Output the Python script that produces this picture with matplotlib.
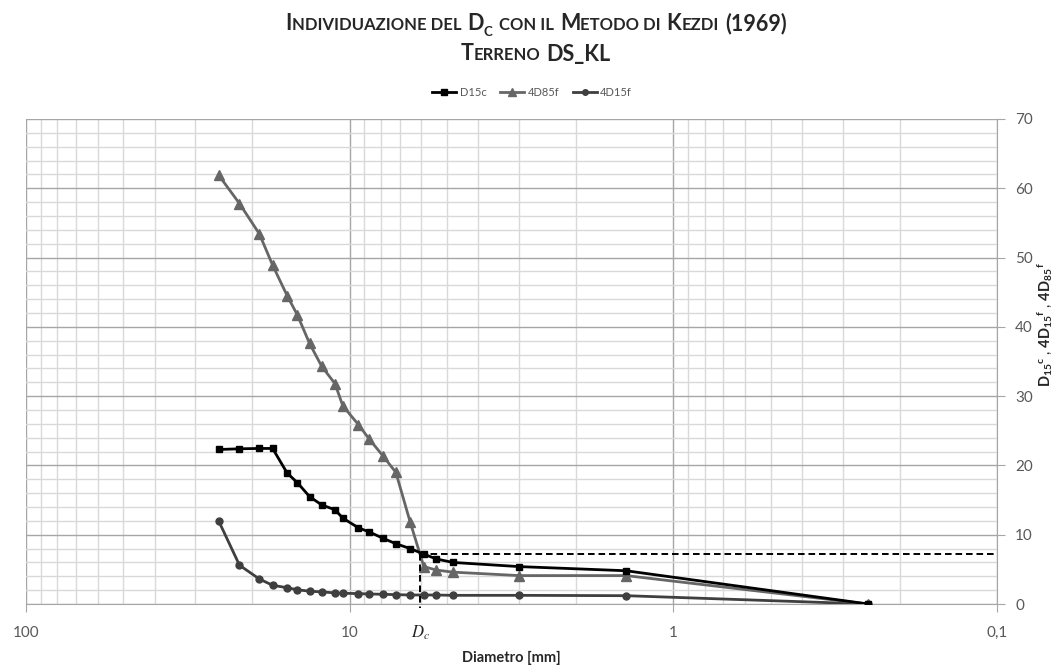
import matplotlib
matplotlib.use('Agg')
import matplotlib.pyplot as plt
from matplotlib.ticker import FixedLocator, FixedFormatter, LogLocator, NullFormatter
import numpy as np

plt.rcParams['font.family'] = ['Lato', 'DejaVu Sans']
plt.rcParams['mathtext.fontset'] = 'custom'
plt.rcParams['mathtext.rm'] = 'Lato'
plt.rcParams['mathtext.it'] = 'Lato:italic'
plt.rcParams['mathtext.bf'] = 'Lato:bold'

# dati
diametri = [25.4, 21.9, 19.0, 17.3, 15.6, 14.5, 13.3, 12.2, 11.1, 10.5, 9.4,
            8.7, 7.9, 7.2, 6.5, 5.9, 5.4, 4.8, 3.0, 1.4, 0.25]
d15c = [22.3, 22.4, 22.45, 22.45, 18.9, 17.5, 15.5, 14.3, 13.6, 12.4, 11.0,
        10.4, 9.5, 8.7, 8.0, 7.2, 6.5, 6.0, 5.4, 4.8, 0.0]
d85f_4 = [61.9, 57.8, 53.4, 48.9, 44.5, 41.7, 37.6, 34.3, 31.8, 28.6, 25.9,
          23.8, 21.4, 19.0, 11.8, 5.4, 4.9, 4.6, 4.1, 4.1, 0.0]
d15f_4 = [12.0, 5.6, 3.6, 2.7, 2.35, 2.05, 1.85, 1.75, 1.6, 1.55, 1.5, 1.45,
          1.4, 1.35, 1.3, 1.3, 1.3, 1.25, 1.25, 1.2, 0.0]
etichette = ['D15c', '4D85f', '4D15f']

Dc = 6.05      # diametro critico
Dc_y = 7.25    # valore di D15c in Dc

x_tick = [100, 10, 1, 0.1]
x_tick_lab = ['100', '10', '1', '0,1']

W, H = 1059, 667
fig = plt.figure(figsize=(W / 100, H / 100), dpi=100)
ax = fig.add_axes([26 / W, 63 / H, 971 / W, 485 / H])

ax.plot(diametri, d15f_4, color='#3f3f3f', marker='o', ms=5, lw=2, label=etichette[2], zorder=3)
ax.plot(diametri, d85f_4, color='#666666', marker='^', ms=6.5, lw=2, label=etichette[1], zorder=4)
ax.plot(diametri, d15c, color='black', marker='s', ms=5, lw=2, label=etichette[0], zorder=5)

# linee tratteggiate per Dc
ax.plot([Dc, x_tick[-1]], [Dc_y, Dc_y], color='black', lw=1.4, dashes=(3.4, 2), zorder=6)
ax.plot([Dc, Dc], [Dc_y, -0.6], color='black', lw=1.4, dashes=(3.4, 2), zorder=6, clip_on=False)
ax.annotate(r'$D_c$', xy=(Dc, 0), xycoords=('data', 'axes fraction'), xytext=(0, -29),
            textcoords='offset pixels', ha='center', va='center', fontsize=12,
            math_fontfamily='stix', color='#262626')

ax.set_xscale('log')
ax.set_xlim(100, 0.1)
ax.set_ylim(0, 70)
ax.xaxis.set_major_locator(FixedLocator(x_tick))
ax.xaxis.set_major_formatter(FixedFormatter(x_tick_lab))
ax.xaxis.set_minor_locator(LogLocator(base=10, subs=np.arange(2, 10)))
ax.xaxis.set_minor_formatter(NullFormatter())
ax.yaxis.tick_right()
ax.set_yticks(np.arange(0, 71, 10))
ax.set_yticks(np.arange(0, 71, 2), minor=True)

ax.grid(which='major', color='#a6a6a6', lw=1, zorder=0)
ax.grid(which='minor', color='#d9d9d9', lw=1, zorder=0)
ax.set_axisbelow(True)
ax.tick_params(which='minor', length=0)
ax.tick_params(axis='x', which='major', length=6, color='#a6a6a6', labelcolor='#595959',
               labelsize=11, pad=10)
ax.tick_params(axis='y', which='major', length=6, color='#a6a6a6', labelcolor='#595959',
               labelsize=11, pad=7)
for s in ['left', 'top']:
    ax.spines[s].set_visible(False)
for s in ['bottom', 'right']:
    ax.spines[s].set_color('#a6a6a6')

fig.text(511 / W, 1 - 658 / H, 'Diametro [mm]', ha='center', va='center',
         fontsize=10.5, fontweight='bold', color='#262626')
fig.text(1045 / W, 1 - 325 / H,
         r'$\mathbf{D_{15}{}^{c}}$ , $\mathbf{4D_{15}{}^{f}}$ , $\mathbf{4D_{85}{}^{f}}$',
         rotation=90, ha='center', va='center', fontsize=10.5, color='#262626')

h, l = ax.get_legend_handles_labels()
fig.legend(h[::-1], l[::-1], loc='center', bbox_to_anchor=(532 / W, 1 - 92 / H), ncol=3,
           frameon=False, fontsize=8, handlelength=2.2, columnspacing=1.2,
           handletextpad=0.3, labelcolor='#595959', markerscale=0.8)


# titolo in maiuscoletto
def maiuscoletto(pezzi, cx, y_px):
    r = fig.canvas.get_renderer()
    testi = []
    larg = []
    for testo, dim, dy, spazio in pezzi:
        t = fig.text(0, 1 - (y_px - dy) / H, testo, fontsize=dim, fontweight='bold',
                     va='baseline', ha='left', color='#262626')
        testi.append(t)
        larg.append(t.get_window_extent(r).width + spazio)
    x = cx - sum(larg) / 2
    for t, w in zip(testi, larg):
        t.set_x(x / W)
        x += w


G, P = 15.5, 12
maiuscoletto([('I', G, 0, 0), ('NDIVIDUAZIONE DEL', P, 0, 6), ('D', G, 0, 0),
              ('C', 9.5, -5, 6), ('CON IL', P, 0, 6), ('M', G, 0, 0), ('ETODO DI', P, 0, 6),
              ('K', G, 0, 0), ('EZDI', P, 0, 6), ('(1969)', G, 0, 0)], 536, 30.5)
maiuscoletto([('T', G, 0, 0), ('ERRENO', P, 0, 6), ('DS_KL', G, 0, 0)], 536, 60.5)

fig.savefig('out.png', dpi=100)
